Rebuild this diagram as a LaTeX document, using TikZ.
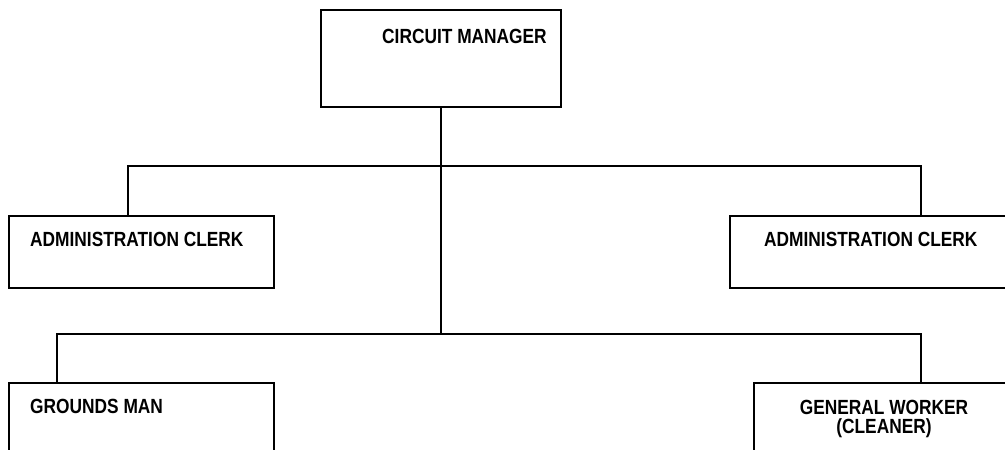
\documentclass[tikz,border=0pt]{standalone}
\usepackage{fontspec}
\newfontfamily\chartfont{Liberation Sans}[FakeStretch=0.845,UprightFont=* Bold]
\begin{document}
\begin{tikzpicture}[x=1pt,y=-1pt,
  box/.style={draw=black,line width=1.8pt,rectangle,inner sep=0pt,anchor=north west},
  lbl/.style={inner sep=0pt,font=\chartfont\fontsize{20.5}{19.3}\selectfont,text=black},
  conn/.style={draw=black,line width=1.8pt}]
\useasboundingbox (0,0) rectangle (1005,450);
\clip (0,0) rectangle (1005,450);
\fill[white] (0,0) rectangle (1005,450);
% boxes
\node[box,minimum width=240pt,minimum height=97pt] (mgr) at (320,9) {};
\node[box,minimum width=265pt,minimum height=72pt] (adminL) at (8,215) {};
\node[box,minimum width=300pt,minimum height=72pt] (adminR) at (729,215) {};
\node[box,minimum width=265pt,minimum height=90pt] (grounds) at (8,382) {};
\node[box,minimum width=280pt,minimum height=90pt] (worker) at (753,382) {};
% labels
\node[lbl,anchor=base] (tmgr) at (464.5,43) {CIRCUIT MANAGER};
\node[lbl,anchor=base west] (tadminL) at (30,246) {ADMINISTRATION CLERK};
\node[lbl,anchor=base west] (tadminR) at (764,246) {ADMINISTRATION CLERK};
\node[lbl,anchor=base west] (tgrounds) at (30,413) {GROUNDS MAN};
\node[lbl,anchor=base] (tworker1) at (884,414) {GENERAL WORKER};
\node[lbl,anchor=base] (tworker2) at (884,433) {(CLEANER)};
% junctions
\coordinate (j1) at (441,166);
\coordinate (j2) at (441,334);
\coordinate (aLtop) at (128,215);
\coordinate (aRtop) at (921,215);
\coordinate (gtop) at (57,382);
\coordinate (wtop) at (921,382);
% connectors
\draw[conn] (mgr.south) -- (j2);
\draw[conn] (j1) -| (aLtop);
\draw[conn] (j1) -| (aRtop);
\draw[conn] (j2) -| (gtop);
\draw[conn] (j2) -| (wtop);
\end{tikzpicture}
\end{document}
